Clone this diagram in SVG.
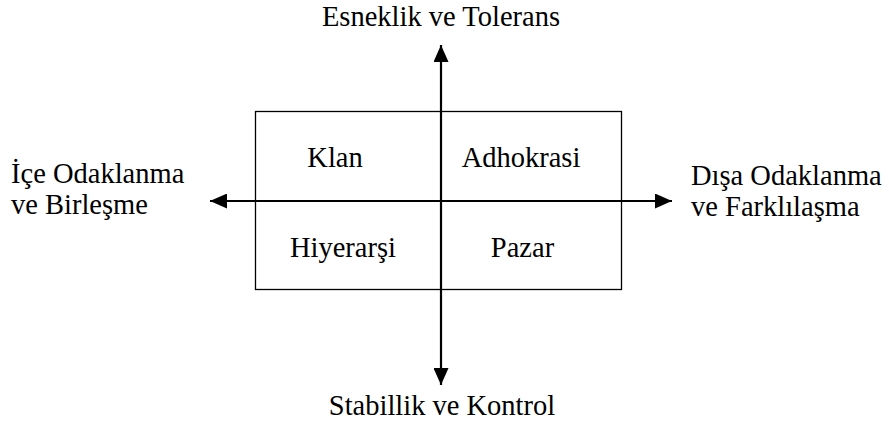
<svg xmlns="http://www.w3.org/2000/svg" width="889" height="431" viewBox="0 0 889 431">
<style>
text{font-family:"Liberation Serif","Times New Roman",serif;font-size:28.5px;fill:#000}
.c{text-anchor:middle}
.ln{stroke:#000;fill:none}
</style>
<defs>
<marker id="ah" viewBox="0 0 17 15" refX="17" refY="7.5" markerWidth="17" markerHeight="15" markerUnits="userSpaceOnUse" orient="auto-start-reverse">
<path d="M0,0 L17,7.5 L0,15 Z" fill="#000"/>
</marker>
</defs>
<rect width="889" height="431" fill="#fff"/>
<g id="frame">
<rect class="ln" x="255.5" y="111.5" width="366" height="178" stroke-width="1.3"/>
</g>
<g id="connectors">
<line class="ln" x1="441" y1="45" x2="441" y2="385" stroke-width="2.2" marker-start="url(#ah)" marker-end="url(#ah)"/>
<line class="ln" x1="210" y1="201" x2="672" y2="201" stroke-width="2.2" marker-start="url(#ah)" marker-end="url(#ah)"/>
</g>
<g id="top"><text class="c" x="441" y="26">Esneklik ve Tolerans</text></g>
<g id="bottom"><text class="c" x="442" y="415">Stabillik ve Kontrol</text></g>
<g id="left"><text x="11" y="183">İçe Odaklanma</text><text x="11" y="214">ve Birleşme</text></g>
<g id="right"><text x="691" y="185">Dışa Odaklanma</text><text x="691" y="216">ve Farklılaşma</text></g>
<g id="klan"><text class="c" x="335" y="167">Klan</text></g>
<g id="adhokrasi"><text class="c" x="521" y="167">Adhokrasi</text></g>
<g id="hiyerarsi"><text class="c" x="343" y="257">Hiyerarşi</text></g>
<g id="pazar"><text class="c" x="522.5" y="257">Pazar</text></g>
</svg>
